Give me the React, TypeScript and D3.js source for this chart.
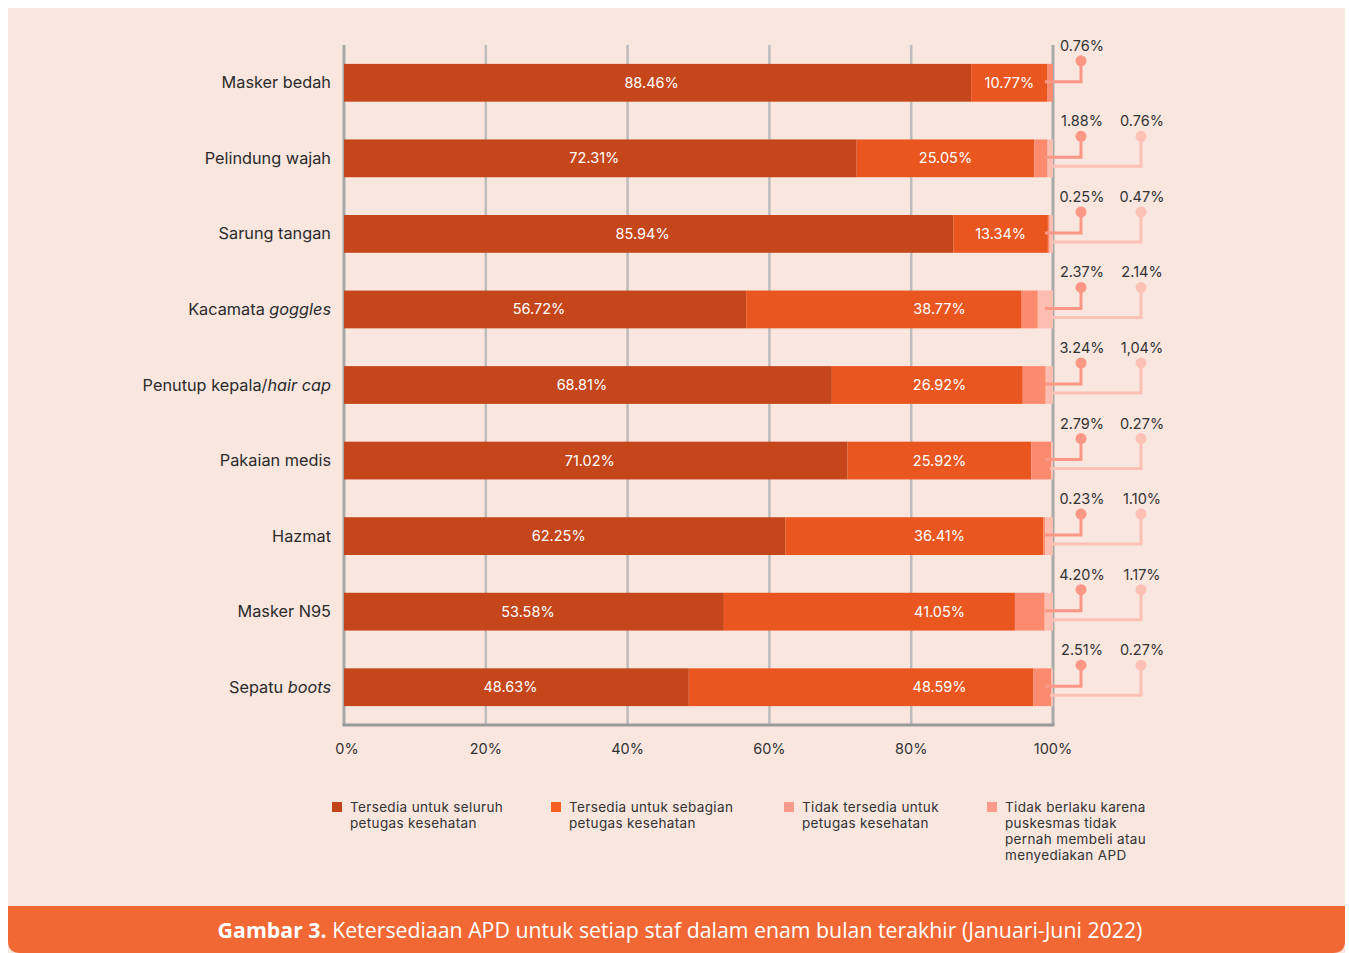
import React from "react";
import * as d3 from "d3";

const categories = [
  "Masker bedah",
  "Pelindung wajah",
  "Sarung tangan",
  "Kacamata goggles",
  "Penutup kepala/hair cap",
  "Pakaian medis",
  "Hazmat",
  "Masker N95",
  "Sepatu boots",
];
// label parts: [normal, italic]
const categoryParts: [string, string][] = [
  ["Masker bedah", ""],
  ["Pelindung wajah", ""],
  ["Sarung tangan", ""],
  ["Kacamata ", "goggles"],
  ["Penutup kepala/", "hair cap"],
  ["Pakaian medis", ""],
  ["Hazmat", ""],
  ["Masker N95", ""],
  ["Sepatu ", "boots"],
];

const seluruh = [88.46, 72.31, 85.94, 56.72, 68.81, 71.02, 62.25, 53.58, 48.63];
const sebagian = [10.77, 25.05, 13.34, 38.77, 26.92, 25.92, 36.41, 41.05, 48.59];
const tidakTersedia = [0.76, 1.88, 0.25, 2.37, 3.24, 2.79, 0.23, 4.2, 2.51];
const tidakBerlaku = [0, 0.76, 0.47, 2.14, 1.04, 0.27, 1.1, 1.17, 0.27];
const tidakTersediaLabels = ["0.76%", "1.88%", "0.25%", "2.37%", "3.24%", "2.79%", "0.23%", "4.20%", "2.51%"];
const tidakBerlakuLabels = ["", "0.76%", "0.47%", "2.14%", "1,04%", "0.27%", "1.10%", "1.17%", "0.27%"];

const ticks = [0, 20, 40, 60, 80, 100];

const legendItems = [
  ["Tersedia untuk seluruh", "petugas kesehatan"],
  ["Tersedia untuk sebagian", "petugas kesehatan"],
  ["Tidak tersedia untuk", "petugas kesehatan"],
  ["Tidak berlaku karena", "puskesmas tidak", "pernah membeli atau", "menyediakan APD"],
];

const COLORS = ["#c4461a", "#e9561f", "#fb8a6e", "#fdbdb0"];
const LEGEND_COLORS = ["#c1441a", "#f45f22", "#f99a8a", "#f99a8a"];
const CALL1 = "#fb9784";
const CALL2 = "#fdc0b4";
const FONT = "Inter, 'Noto Sans', sans-serif";

export default function App() {
  const x = d3.scaleLinear().domain([0, 100]).range([344, 1053]);
  const y = d3
    .scaleBand<string>()
    .domain(categories)
    .range([45, 725])
    .paddingInner(0.5)
    .paddingOuter(0.25);
  const bw = y.bandwidth();
  const c1x = 1081;
  const c2x = 1141;

  const series = [seluruh, sebagian, tidakTersedia, tidakBerlaku];
  const legendX = [332, 551, 784, 987];

  return (
    <svg
      width={1349}
      height={953}
      style={{ position: "absolute", left: 0, top: 0, display: "block" }}
      fontFamily={FONT}
    >
      <rect x={0} y={0} width={1349} height={953} fill="#ffffff" />
      <rect x={8} y={8} width={1337} height={945} fill="#f9e6df" />
      <path
        d="M8,906 H1345 V941 Q1345,953 1333,953 H20 Q8,953 8,941 Z"
        fill="#f26835"
      />
      <text x={680} y={938} textAnchor="middle" fill="#ffffff" fontSize={21.3} fontFamily="'Open Sans', sans-serif">
        <tspan fontWeight={700}>Gambar 3.</tspan>
        <tspan> Ketersediaan APD untuk setiap staf dalam enam bulan terakhir (Januari-Juni 2022)</tspan>
      </text>

      {/* gridlines */}
      {ticks.map((t) => (
        <line
          key={t}
          x1={x(t)}
          x2={x(t)}
          y1={45}
          y2={725}
          stroke={t === 0 || t === 100 ? "#a9a9a9" : "#bcbcbc"}
          strokeWidth={t === 0 || t === 100 ? 3 : 2.5}
        />
      ))}
      <line x1={x(0) - 1.5} x2={x(100) + 1.5} y1={725} y2={725} stroke="#9a9a9a" strokeWidth={3} />
      {ticks.map((t) => (
        <text key={t} x={x(t) + (t === 0 ? 3 : 0)} y={754} textAnchor="middle" fontSize={14.5} fill="#333">
          {t}%
        </text>
      ))}

      {/* bars */}
      {categories.map((cat, i) => {
        const yy = y(cat)!;
        const cy = yy + bw / 2;
        let acc = 0;
        const segs = series.map((s, k) => {
          const x0 = x(acc);
          acc += s[i];
          const x1 = x(acc);
          return <rect key={k} x={x0} y={yy} width={Math.max(0, x1 - x0)} height={bw} fill={COLORS[k]} />;
        });
        const s1c = (x(0) + x(seluruh[i])) / 2 - 6;
        const s2c = Math.max(x(84), (x(seluruh[i]) + x(seluruh[i] + sebagian[i])) / 2);
        const endX = x(seluruh[i] + sebagian[i] + tidakTersedia[i] + tidakBerlaku[i]);
        const parts = categoryParts[i];
        return (
          <g key={cat}>
            {segs}
            <text x={331} y={cy + 5.5} textAnchor="end" fontSize={16.3} fill="#2b2b2b">
              {parts[0]}
              {parts[1] && <tspan fontStyle="italic">{parts[1]}</tspan>}
            </text>
            <text x={s1c} y={cy + 5} textAnchor="middle" fontSize={14.5} fill="#fff">
              {seluruh[i].toFixed(2)}%
            </text>
            <text x={s2c} y={cy + 5} textAnchor="middle" fontSize={14.5} fill="#fff">
              {sebagian[i].toFixed(2)}%
            </text>
            {/* callout 2 */}
            {tidakBerlakuLabels[i] && (
              <g>
                <polyline
                  points={`${endX - 3},${cy + 8} ${c2x},${cy + 8} ${c2x},${cy - 22}`}
                  fill="none"
                  stroke={CALL2}
                  strokeWidth={3}
                />
                <circle cx={c2x} cy={cy - 22} r={5.5} fill={CALL2} />
                <text x={c2x + 1} y={cy - 32} textAnchor="middle" fontSize={14.5} fill="#333">
                  {tidakBerlakuLabels[i]}
                </text>
              </g>
            )}
            {/* callout 1 */}
            <polyline
              points={`${endX - 8},${cy - 1} ${c1x},${cy - 1} ${c1x},${cy - 22}`}
              fill="none"
              stroke={CALL1}
              strokeWidth={3}
            />
            <circle cx={c1x} cy={cy - 22} r={5.5} fill={CALL1} />
            <text x={c1x + 1} y={cy - 32} textAnchor="middle" fontSize={14.5} fill="#333">
              {tidakTersediaLabels[i]}
            </text>
          </g>
        );
      })}

      {/* legend */}
      {legendItems.map((lines, k) => (
        <g key={k}>
          <rect x={legendX[k]} y={802} width={10} height={10} fill={LEGEND_COLORS[k]} />
          {lines.map((ln, j) => (
            <text key={j} x={legendX[k] + 18} y={812 + j * 16} fontSize={13.5} letterSpacing={0.35} fill="#333">
              {ln}
            </text>
          ))}
        </g>
      ))}
    </svg>
  );
}
